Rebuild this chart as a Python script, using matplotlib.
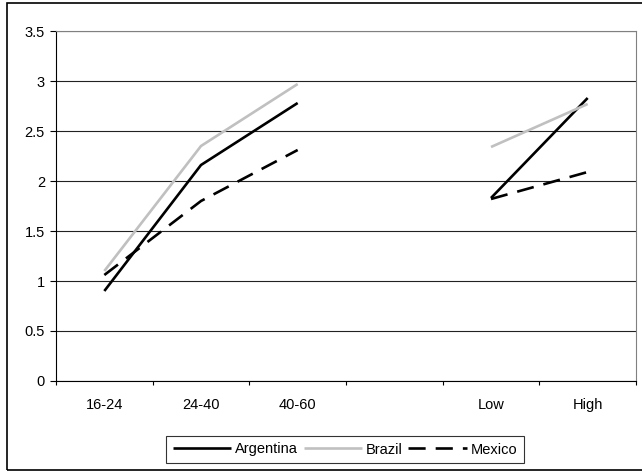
import numpy as np
import matplotlib
matplotlib.use("Agg")
import matplotlib.pyplot as plt
from matplotlib.patches import Rectangle
from matplotlib.ticker import FormatStrFormatter

plt.rcParams['font.family'] = ['Liberation Sans', 'DejaVu Sans']

categories = ['16-24', '24-40', '40-60', '', 'Low', 'High']
argentina = [0.90, 2.16, 2.78, np.nan, 1.83, 2.83]
brazil = [1.10, 2.35, 2.97, np.nan, 2.34, 2.77]
mexico = [1.06, 1.80, 2.31, np.nan, 1.82, 2.09]

x = np.arange(len(categories))

fig = plt.figure(figsize=(6.42, 4.71), dpi=100)
ax = fig.add_axes([56 / 642, 1 - 381 / 471, 580 / 642, 350 / 471])

ax.plot(x, argentina, c='black', lw=1.9, label='Argentina', solid_capstyle='butt')
ax.plot(x, brazil, c='#c0c0c0', lw=1.9, label='Brazil', solid_capstyle='butt')
ax.plot(x, mexico, c='black', lw=1.9, dashes=(6.5, 3.8), label='Mexico')

ax.set_xlim(-0.5, len(categories) - 0.5)
ax.set_ylim(0, 3.5)
ax.set_yticks(np.arange(0, 3.51, 0.5))
ax.yaxis.set_major_formatter(FormatStrFormatter('%g'))
ax.grid(axis='y', color='#222222', lw=0.8)
ax.set_axisbelow(True)

# ticks at category boundaries, labels at centres
ax.set_xticks(np.arange(-0.5, len(categories), 1.0))
ax.set_xticklabels([])
ax.set_xticks(x, minor=True)
ax.set_xticklabels(categories, minor=True)
ax.tick_params(axis='x', which='major', direction='out', length=3, width=0.8)
ax.tick_params(axis='x', which='minor', length=0, pad=12, labelsize=10.5)
ax.tick_params(axis='y', direction='out', length=4, width=0.8, pad=4, labelsize=10.5)

ax.spines['left'].set_color('black')
ax.spines['bottom'].set_color('black')
ax.spines['top'].set_color('#808080')
ax.spines['right'].set_color('#808080')
for s in ax.spines.values():
    s.set_linewidth(0.8)

leg = fig.legend(loc='center', bbox_to_anchor=(345 / 642, 1 - 449.5 / 471), ncol=3,
                 fontsize=10.5, frameon=True, fancybox=False, edgecolor='black',
                 handlelength=4.0, handletextpad=0.25, columnspacing=0.4,
                 borderpad=0.45, borderaxespad=0)
leg.get_frame().set_linewidth(0.8)

fig.patches.append(Rectangle((7 / 642, 1.5 / 471), 660 / 642, 467 / 471,
                             transform=fig.transFigure, fill=False,
                             edgecolor='black', lw=1.2))

fig.savefig('out.png', dpi=100)
